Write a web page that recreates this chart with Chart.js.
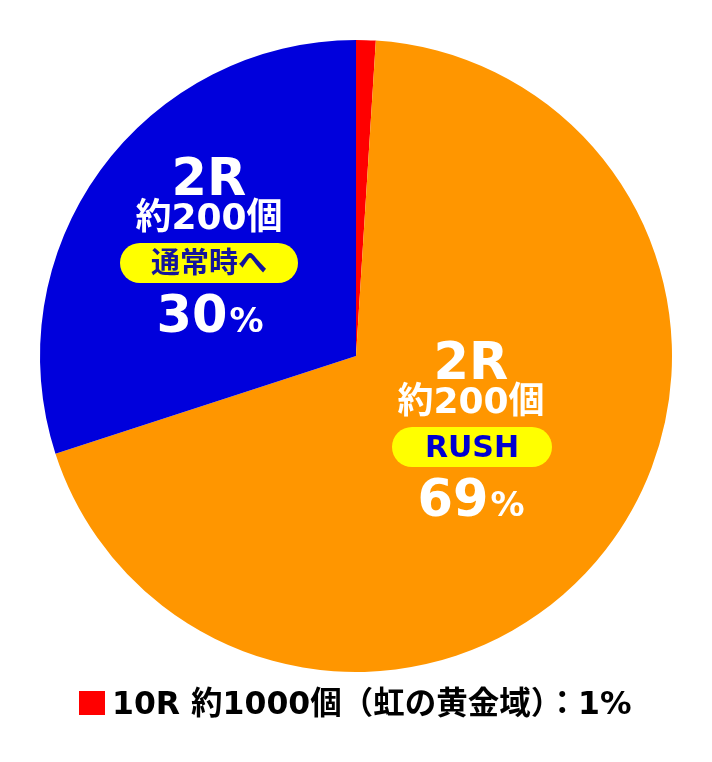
<!DOCTYPE html>
<html>
<head>
<meta charset="utf-8">
<script src="https://cdn.jsdelivr.net/npm/chart.js@4"></script>
<style>
  html, body { margin: 0; padding: 0; background: #fff; }
  #wrap { position: relative; width: 712px; height: 762px; }
  canvas { position: absolute; left: 0; top: 0; }
  .lbl {
    position: absolute;
    font-family: "DejaVu Sans", "Noto Sans CJK JP", sans-serif;
    font-weight: bold;
    color: #fff;
    white-space: nowrap;
    line-height: 1;
    transform: translateX(-50%);
  }
  .pill {
    position: absolute;
    background: #ffff00;
    border-radius: 20px;
    text-align: center;
    font-family: "DejaVu Sans", "Noto Sans CJK JP", sans-serif;
    font-weight: bold;
    line-height: 40px;
    height: 40px;
  }
  .pct { font-size: 34px; margin-left: 2px; }
  #legend {
    position: absolute;
    left: 79px;
    top: 687px;
    font-family: "DejaVu Sans", "Noto Sans CJK JP", sans-serif;
    font-weight: bold;
    font-size: 31.5px;
    line-height: 32px;
    color: #000;
    white-space: nowrap;
  }
  #legend .box {
    display: inline-block;
    width: 26px; height: 24px;
    background: #ff0000;
    vertical-align: -1px;
    margin-right: 7px;
  }
</style>
</head>
<body>
<div id="wrap">
  <canvas id="pie" width="712" height="762"></canvas>
  <div id="labels"></div>
  <div id="legend"></div>
</div>
<script>
// slices, clockwise from 12 o'clock
const sliceNames = ["10R 約1000個(虹の黄金域)", "2R 約200個 RUSH", "2R 約200個 通常時へ"];
const sliceValues = [1, 69, 30];
const sliceColors = ["#ff0000", "#ff9600", "#0000dc"];

const legendText = "10R 約1000個（虹の黄金域）：1%";

new Chart(document.getElementById("pie"), {
  type: "pie",
  data: {
    labels: sliceNames,
    datasets: [
      {
        data: sliceValues,
        backgroundColor: sliceColors,
        borderWidth: 0,
      },
    ],
  },
  options: {
    responsive: false,
    animation: false,
    layout: { padding: { top: 40, left: 40, right: 40, bottom: 90 } },
    plugins: { legend: { display: false }, tooltip: { enabled: false } },
  },
});

// slice captions (html so the text stays text)
function addLine(html, x, y, size) {
  const d = document.createElement("div");
  d.className = "lbl";
  d.style.left = x + "px";
  d.style.top = y + "px";
  d.style.fontSize = size + "px";
  d.innerHTML = html;
  document.getElementById("labels").appendChild(d);
}
function addPill(text, x0, y0, w, color, size) {
  const d = document.createElement("div");
  d.className = "pill";
  d.style.left = x0 + "px";
  d.style.top = y0 + "px";
  d.style.width = w + "px";
  d.style.color = color;
  d.style.fontSize = size + "px";
  d.textContent = text;
  document.getElementById("labels").appendChild(d);
}

// blue slice
addLine("2R", 209, 152, 51);
addLine("約200個", 209, 199, 36);
addPill("通常時へ", 120, 243, 178, "#14149c", 29);
addLine("30<span class='pct'>%</span>", 210, 289, 51);

// orange slice
addLine("2R", 471, 336, 51);
addLine("約200個", 471, 383, 36);
addPill("RUSH", 392, 427, 160, "#0000d0", 30);
addLine("69<span class='pct'>%</span>", 471, 473, 51);

document.getElementById("legend").innerHTML =
  "<span class='box'></span>" + legendText;
</script>
</body>
</html>
